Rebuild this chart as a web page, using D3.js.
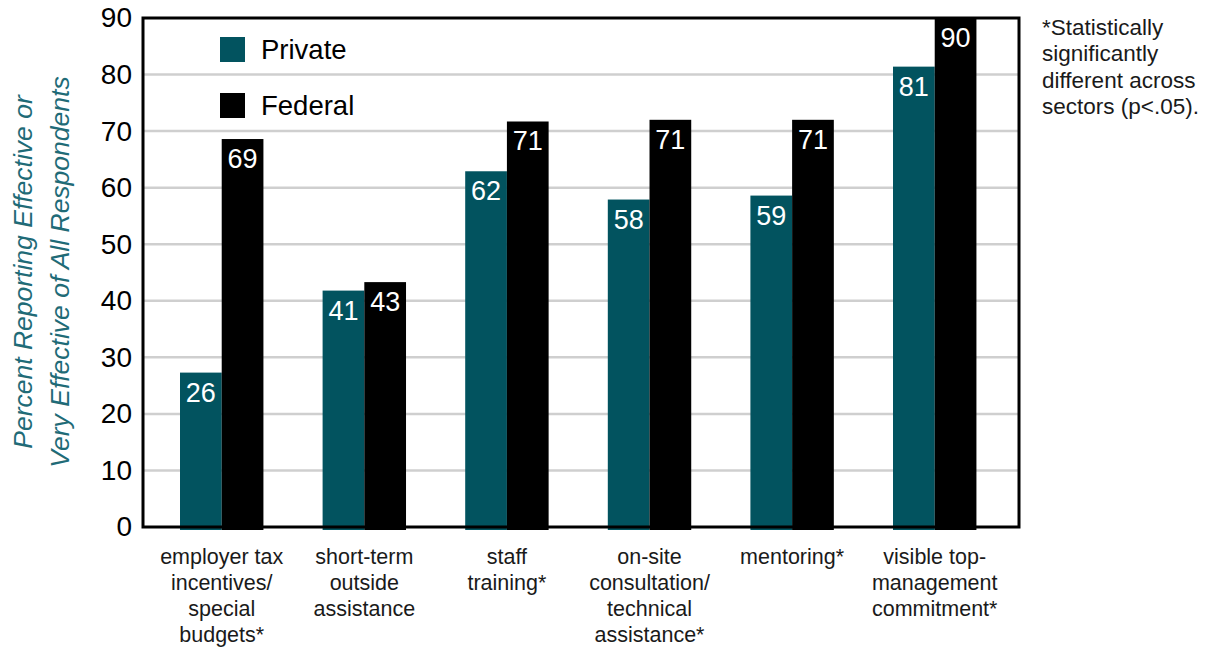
<!DOCTYPE html>
<html>
<head>
<meta charset="utf-8">
<script src="https://cdn.jsdelivr.net/npm/d3@7"></script>
<style>
  body { margin: 0; background: #fff; }
  text { font-family: "Liberation Sans", Arial, sans-serif; }
</style>
</head>
<body>
<script>
const width = 1212;
const height = 649;

// data
const categories = [
  ['employer tax', 'incentives/', 'special', 'budgets*'],
  ['short-term', 'outside', 'assistance'],
  ['staff', 'training*'],
  ['on-site', 'consultation/', 'technical', 'assistance*'],
  ['mentoring*'],
  ['visible top-', 'management', 'commitment*']
];
const series = ['Private', 'Federal'];
const privateValues = [27.3, 41.8, 62.9, 57.9, 58.6, 81.4];
const federalValues = [68.6, 43.3, 71.7, 72.0, 72.0, 90];
const privateLabels = ['26', '41', '62', '58', '59', '81'];
const federalLabels = ['69', '43', '71', '71', '71', '90'];
const yTicks = [0, 10, 20, 30, 40, 50, 60, 70, 80, 90];
const note = ['*Statistically', 'significantly', 'different across', 'sectors (p<.05).'];
const yTitle = ['Percent Reporting Effective or', 'Very Effective of All Respondents'];

const colors = { Private: '#02535f', Federal: '#000000' };

const plotLeft = 143, plotRight = 1019, plotTop = 18, plotBottom = 527;

const svg = d3.create('svg')
  .attr('width', width)
  .attr('height', height)
  .style('background-color', '#fff');

document.body.appendChild(svg.node());

const x0 = d3.scaleBand()
  .domain(d3.range(categories.length))
  .range([plotLeft, plotRight])
  .paddingInner(0.415)
  .paddingOuter(0.279)
  .align(0.465);

const x1 = d3.scaleBand()
  .domain(series)
  .range([0, x0.bandwidth()]);

const y = d3.scaleLinear()
  .domain([0, 90])
  .range([plotBottom, plotTop]);

// gridlines
svg.append('g')
  .selectAll('line')
  .data(yTicks.filter(d => d > 0 && d < 90))
  .enter()
  .append('line')
  .attr('x1', plotLeft)
  .attr('x2', plotRight)
  .attr('y1', d => y(d))
  .attr('y2', d => y(d))
  .attr('stroke', '#cfcfcf')
  .attr('stroke-width', 2.5);

// bars
const rows = categories.map((c, i) => [
  { key: 'Private', i: i, value: privateValues[i], label: privateLabels[i] },
  { key: 'Federal', i: i, value: federalValues[i], label: federalLabels[i] }
]);

const groups = svg.append('g')
  .selectAll('g')
  .data(rows)
  .enter()
  .append('g')
  .attr('transform', (d, i) => `translate(${x0(i)},0)`);

groups.selectAll('rect')
  .data(d => d)
  .enter()
  .append('rect')
  .attr('x', d => x1(d.key))
  .attr('y', d => y(d.value))
  .attr('width', x1.bandwidth())
  .attr('height', d => y(0) - y(d.value) + 3)
  .attr('fill', d => colors[d.key]);

groups.selectAll('text')
  .data(d => d)
  .enter()
  .append('text')
  .attr('x', d => x1(d.key) + x1.bandwidth() / 2)
  .attr('y', d => y(d.value) + 29)
  .attr('text-anchor', 'middle')
  .attr('fill', '#fff')
  .attr('font-size', 27)
  .text(d => d.label);

// frame
svg.append('rect')
  .attr('x', plotLeft)
  .attr('y', plotTop)
  .attr('width', plotRight - plotLeft)
  .attr('height', plotBottom - plotTop)
  .attr('fill', 'none')
  .attr('stroke', '#000')
  .attr('stroke-width', 3);

// y axis labels
const yAxis = d3.axisLeft(y)
  .tickValues(yTicks)
  .tickSize(0)
  .tickPadding(11);

svg.append('g')
  .attr('transform', `translate(${plotLeft},0)`)
  .call(yAxis)
  .call(g => g.select('.domain').remove())
  .selectAll('text')
  .attr('font-family', '"Liberation Sans", Arial, sans-serif')
  .attr('font-size', 28)
  .attr('fill', '#000');

// category labels
const catLabels = svg.append('g')
  .selectAll('text')
  .data(categories)
  .enter()
  .append('text')
  .attr('x', (d, i) => x0(i) + x0.bandwidth() / 2)
  .attr('y', 564)
  .attr('text-anchor', 'middle')
  .attr('font-size', 21.5)
  .attr('fill', '#1a1a1a');

catLabels.selectAll('tspan')
  .data(d => d)
  .enter()
  .append('tspan')
  .attr('x', function () { return d3.select(this.parentNode).attr('x'); })
  .attr('dy', (d, j) => j === 0 ? 0 : 26)
  .text(d => d);

// legend
const legend = svg.append('g')
  .selectAll('g')
  .data(series)
  .enter()
  .append('g')
  .attr('transform', (d, i) => `translate(220,${37 + i * 56})`);

legend.append('rect')
  .attr('width', 25)
  .attr('height', 25)
  .attr('fill', d => colors[d]);

legend.append('text')
  .attr('x', 41)
  .attr('y', 22)
  .attr('font-size', 27.5)
  .attr('fill', '#000')
  .text(d => d);

// y title
svg.append('g')
  .attr('transform', 'translate(0,272) rotate(-90)')
  .selectAll('text')
  .data(yTitle)
  .enter()
  .append('text')
  .attr('x', 0)
  .attr('y', (d, i) => 32 + i * 37)
  .attr('text-anchor', 'middle')
  .attr('font-size', 26.5)
  .attr('font-style', 'italic')
  .attr('fill', '#1f6b77')
  .text(d => d);

// note
svg.append('g')
  .selectAll('text')
  .data(note)
  .enter()
  .append('text')
  .attr('x', 1042)
  .attr('y', (d, i) => 35 + i * 26.3)
  .attr('font-size', 22.5)
  .attr('fill', '#1a1a1a')
  .text(d => d);
</script>
</body>
</html>
